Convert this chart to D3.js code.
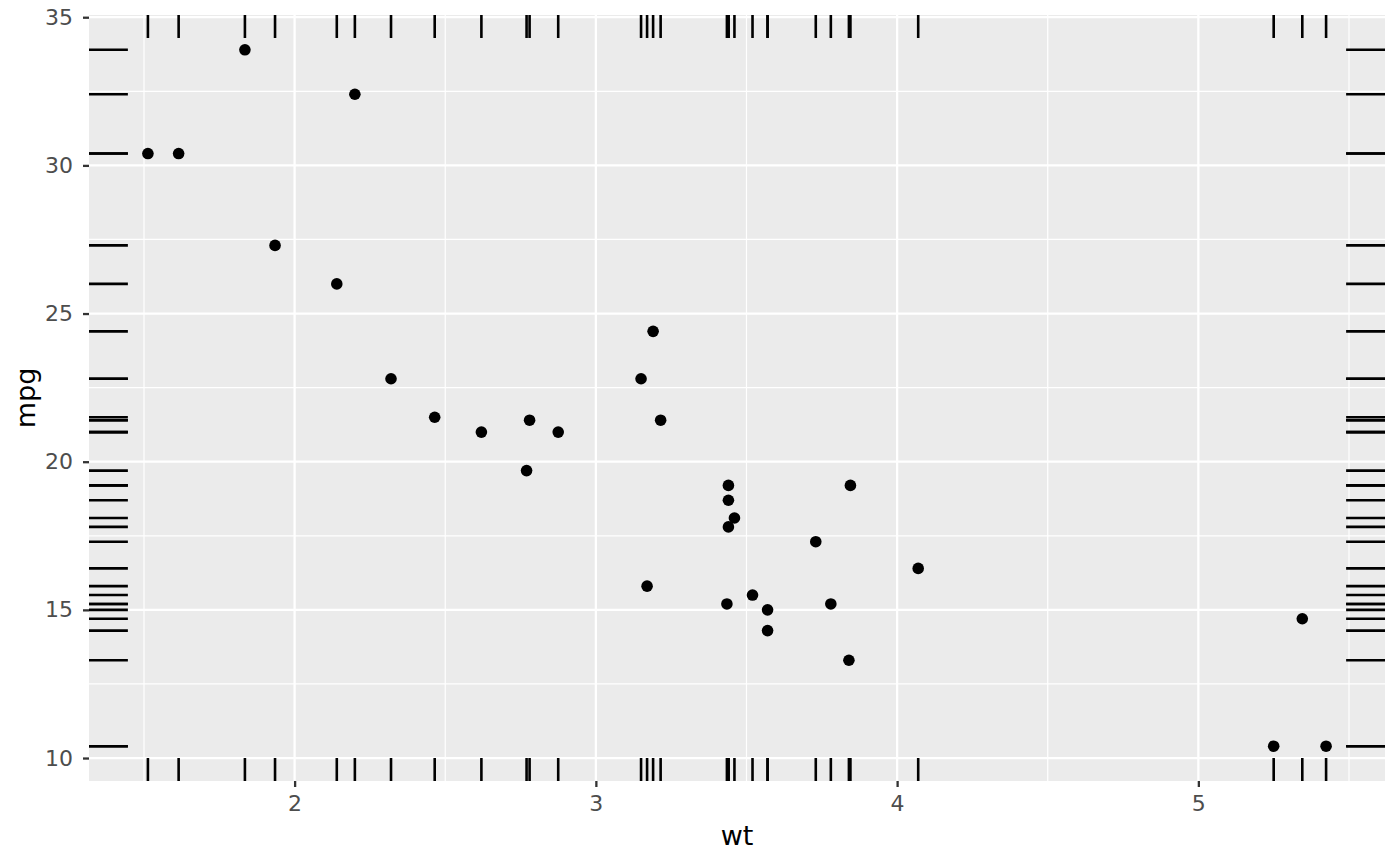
<!DOCTYPE html>
<html><head><meta charset="utf-8">
<script src="https://cdn.jsdelivr.net/npm/d3@7"></script>
<style>body{margin:0;background:#fff}svg{display:block}</style>
</head><body>
<script>
const wt  = [2.620,2.875,2.320,3.215,3.440,3.460,3.570,3.190,3.150,3.440,3.440,4.070,3.730,3.780,5.250,5.424,5.345,2.200,1.615,1.835,2.465,3.520,3.435,3.840,3.845,1.935,2.140,1.513,3.170,2.770,3.570,2.780];
const mpg = [21.0,21.0,22.8,21.4,18.7,18.1,14.3,24.4,22.8,19.2,17.8,16.4,17.3,15.2,10.4,10.4,14.7,32.4,30.4,33.9,21.5,15.5,15.2,13.3,19.2,27.3,26.0,30.4,15.8,19.7,15.0,21.4];
const xTicks = [2,3,4,5];
const xMinor = [1.5,2.5,3.5,4.5,5.5];
const yTicks = [10,15,20,25,30,35];
const yMinor = [12.5,17.5,22.5,27.5,32.5];

const W=1400,H=866;
const L=89,R=1385,T=15,B=781;
const svg=d3.select("body").append("svg").attr("width",W).attr("height",H);
const xr=[d3.min(wt),d3.max(wt)], xe=(xr[1]-xr[0])*0.05;
const yr=[d3.min(mpg),d3.max(mpg)], ye=(yr[1]-yr[0])*0.05;
const x=d3.scaleLinear().domain([xr[0]-xe,xr[1]+xe]).range([L,R]);
const y=d3.scaleLinear().domain([yr[0]-ye,yr[1]+ye]).range([B,T]);

svg.append("rect").attr("x",L).attr("y",T).attr("width",R-L).attr("height",B-T).attr("fill","#ebebeb");
const g=svg.append("g");
g.selectAll(".xm").data(xMinor).join("line").attr("x1",d=>x(d)).attr("x2",d=>x(d)).attr("y1",T).attr("y2",B).attr("stroke","#fff").attr("stroke-width",1.2);
g.selectAll(".ym").data(yMinor).join("line").attr("y1",d=>y(d)).attr("y2",d=>y(d)).attr("x1",L).attr("x2",R).attr("stroke","#fff").attr("stroke-width",1.2);
g.selectAll(".xM").data(xTicks).join("line").attr("x1",d=>x(d)).attr("x2",d=>x(d)).attr("y1",T).attr("y2",B).attr("stroke","#fff").attr("stroke-width",2.3);
g.selectAll(".yM").data(yTicks).join("line").attr("y1",d=>y(d)).attr("y2",d=>y(d)).attr("x1",L).attr("x2",R).attr("stroke","#fff").attr("stroke-width",2.3);

const rx=(R-L)*0.03, ry=(B-T)*0.03;
const rug=svg.append("g").attr("stroke","#000").attr("stroke-width",2.6);
rug.selectAll(".rb").data(wt).join("line").attr("x1",d=>x(d)).attr("x2",d=>x(d)).attr("y1",B).attr("y2",B-ry);
rug.selectAll(".rt").data(wt).join("line").attr("x1",d=>x(d)).attr("x2",d=>x(d)).attr("y1",T).attr("y2",T+ry);
rug.selectAll(".rl").data(mpg).join("line").attr("y1",d=>y(d)).attr("y2",d=>y(d)).attr("x1",L).attr("x2",L+rx);
rug.selectAll(".rr").data(mpg).join("line").attr("y1",d=>y(d)).attr("y2",d=>y(d)).attr("x1",R).attr("x2",R-rx);

svg.append("g").selectAll("circle").data(wt.map((d,i)=>[d,mpg[i]])).join("circle")
  .attr("cx",d=>x(d[0])).attr("cy",d=>y(d[1])).attr("r",5.8).attr("fill","#000");

const xa=svg.append("g").attr("transform",`translate(0,${B})`).call(d3.axisBottom(x).tickValues(xTicks).tickFormat(d3.format("d")).tickSize(6).tickPadding(8));
const ya=svg.append("g").attr("transform",`translate(${L},0)`).call(d3.axisLeft(y).tickValues(yTicks).tickFormat(d3.format("d")).tickSize(6).tickPadding(10));
[xa,ya].forEach(a=>{a.select(".domain").remove();
  a.attr("font-size",null).attr("font-family",null);
  a.selectAll(".tick line").attr("stroke","#333").attr("stroke-width",2.3);
  a.selectAll("text").attr("fill","#4d4d4d").style("font-family","DejaVu Sans").style("font-size","22px");});
svg.append("text").attr("x",(L+R)/2).attr("y",845).attr("text-anchor","middle").style("font-family","DejaVu Sans").style("font-size","27px").text("wt");
svg.append("text").attr("transform",`translate(35,${(T+B)/2}) rotate(-90)`).attr("text-anchor","middle").style("font-family","DejaVu Sans").style("font-size","27px").text("mpg");
</script>
</body></html>
